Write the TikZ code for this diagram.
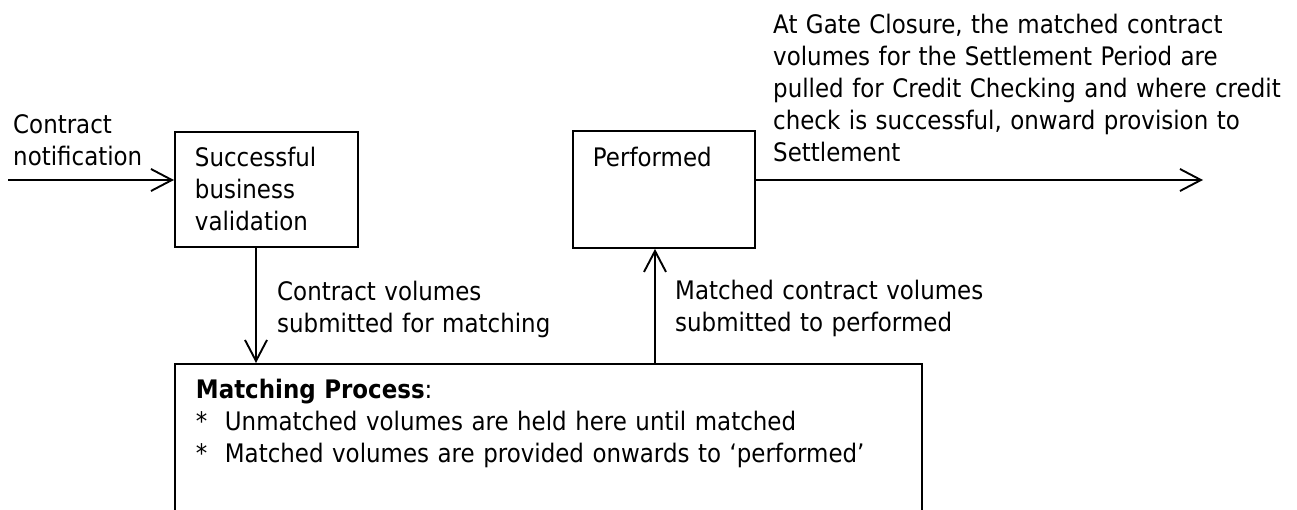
\documentclass[tikz,border=0pt]{standalone}
\usepackage{fontspec}
\setmainfont{DejaVu Sans}[FakeStretch=0.9]
\usetikzlibrary{arrows.meta}
\begin{document}
\begin{tikzpicture}[x=1pt,y=-1pt,
  every node/.style={font=\fontsize{25.5}{32}\selectfont},
  box/.style={draw,line width=1.9pt,anchor=north west,align=left,inner xsep=20pt,text height=19pt},
  lbl/.style={anchor=base west,align=left,inner sep=0pt},
  arr/.style={line width=1.9pt,-{Straight Barb[length=21pt,width=22pt,line width=1.9pt]}}]
\clip (0,0) rectangle (1297,509);
\fill[white] (0,0) rectangle (1297,509);
% boxes
\node[box,inner ysep=16pt,text width=143pt,text depth=64pt] (valid) at (174,131)
  {Successful\\business\\validation};
\node[box,inner ysep=17pt,text width=142pt,text depth=64pt] (perf) at (572,130)
  {Performed};
\node[box,inner xsep=21pt,inner ysep=16pt,text width=705pt,text depth=116pt] (match) at (174,363)
  {\textbf{Matching Process}:\\
   \makebox[29pt][l]{*}Unmatched volumes are held here until matched\\
   \makebox[29pt][l]{*}Matched volumes are provided onwards to ‘performed’};
% labels
\node[lbl,text width=170pt] (lin) at (13,133) {Contract\\notification};
\node[lbl,text width=524pt] (lout) at (773,33)
  {At Gate Closure, the matched contract\\volumes for the Settlement Period are\\pulled for Credit Checking and where credit\\check is successful, onward provision to\\Settlement};
\node[lbl,text width=300pt] (ldown) at (277,300) {Contract volumes\\submitted for matching};
\node[lbl,text width=330pt] (lup) at (675,299) {Matched contract volumes\\submitted to performed};
% connectors
\coordinate (src) at (8,180);
\coordinate (dst) at (1203,180);
\coordinate (dx) at (256,0);
\coordinate (ux) at (655,0);
\draw[arr] (src) -- (src -| valid.west);
\draw[arr] (perf.east |- dst) -- (dst);
\draw[arr] (valid.south -| dx) -- (match.north -| dx);
\draw[arr] (match.north -| ux) -- (perf.south -| ux);
\end{tikzpicture}
\end{document}
